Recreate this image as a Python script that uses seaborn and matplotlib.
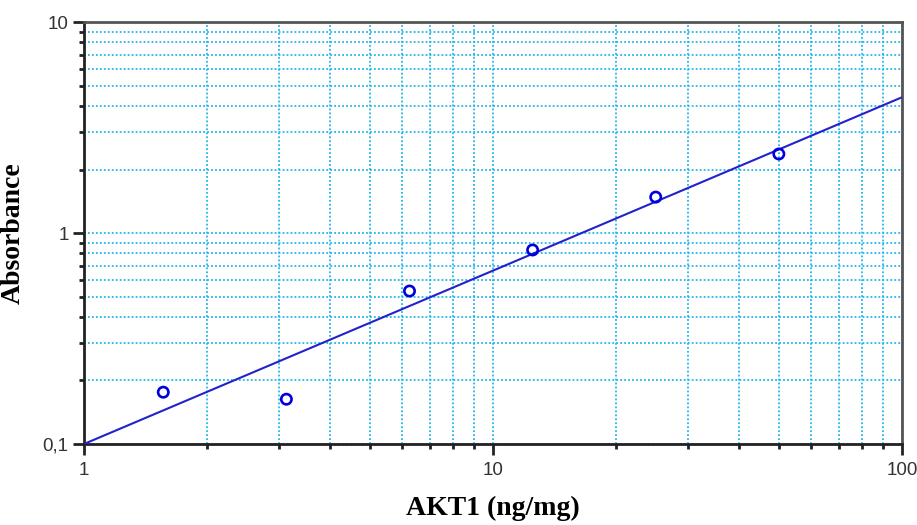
import matplotlib
matplotlib.use("Agg")
import matplotlib.pyplot as plt
import matplotlib.ticker as mticker
import seaborn as sns
import pandas as pd

# Data
concentration = [1.5625, 3.125, 6.25, 12.5, 25, 50]
absorbance = [0.176, 0.163, 0.531, 0.831, 1.48, 2.37]
fit_x = [1, 100]
fit_y = [0.1, 4.4]
x_ticks = [1, 10, 100]
x_tick_labels = ["1", "10", "100"]
y_ticks = [0.1, 1, 10]
y_tick_labels = ["0,1", "1", "10"]

plt.rcParams.update({
    'font.family': ['Liberation Sans', 'DejaVu Sans'],
    'xtick.bottom': True, 'ytick.left': True,
    'xtick.top': False, 'ytick.right': False,
    'xtick.direction': 'out', 'ytick.direction': 'out',
})

fig = plt.figure(figsize=(9.17, 5.25), dpi=100)
ax = fig.add_axes([0.0916, 0.1543, 0.8920, 0.8037])

pts = pd.DataFrame({"x": concentration, "y": absorbance})
fit = pd.DataFrame({"x": fit_x, "y": fit_y})

sns.lineplot(data=fit, x="x", y="y", ax=ax, color="#2222cc", linewidth=1.5, zorder=3)
sns.scatterplot(data=pts, x="x", y="y", ax=ax, marker="o", s=55,
                facecolors="none", edgecolor="#0000dd", linewidth=1.9, zorder=4)

ax.set_xscale("log")
ax.set_yscale("log")
ax.set_xlim(1, 100)
ax.set_ylim(0.1, 10)

ax.xaxis.set_major_locator(mticker.FixedLocator(x_ticks))
ax.xaxis.set_major_formatter(mticker.FixedFormatter(x_tick_labels))
ax.yaxis.set_major_locator(mticker.FixedLocator(y_ticks))
ax.yaxis.set_major_formatter(mticker.FixedFormatter(y_tick_labels))
ax.xaxis.set_minor_locator(mticker.LogLocator(base=10, subs=range(2, 10)))
ax.yaxis.set_minor_locator(mticker.LogLocator(base=10, subs=range(2, 10)))
ax.xaxis.set_minor_formatter(mticker.NullFormatter())
ax.yaxis.set_minor_formatter(mticker.NullFormatter())

ax.grid(True, which="both", color="#22b5ea", linestyle=(0, (1, 1.2)), linewidth=1.3)
ax.set_axisbelow(True)

ax.tick_params(axis="both", which="major", direction="out", length=8, width=2,
               color="#222222", labelsize=13.5, labelcolor="#333333", pad=3)
ax.tick_params(axis="x", which="major", pad=5)
ax.tick_params(axis="both", which="minor", direction="out", length=3.5, width=2,
               color="#222222")

for side in ["left", "bottom"]:
    ax.spines[side].set_color("#222222")
    ax.spines[side].set_linewidth(2)
for side in ["top", "right"]:
    ax.spines[side].set_color("#555555")
    ax.spines[side].set_linewidth(2)

ax.set_xlabel("AKT1 (ng/mg)", fontsize=20, fontweight="bold",
              family=["Liberation Serif", "DejaVu Serif"], labelpad=12)
ax.set_ylabel("Absorbance", fontsize=20, fontweight="bold",
              family=["Liberation Serif", "DejaVu Serif"], labelpad=12)

fig.savefig("out.png", dpi=100)
